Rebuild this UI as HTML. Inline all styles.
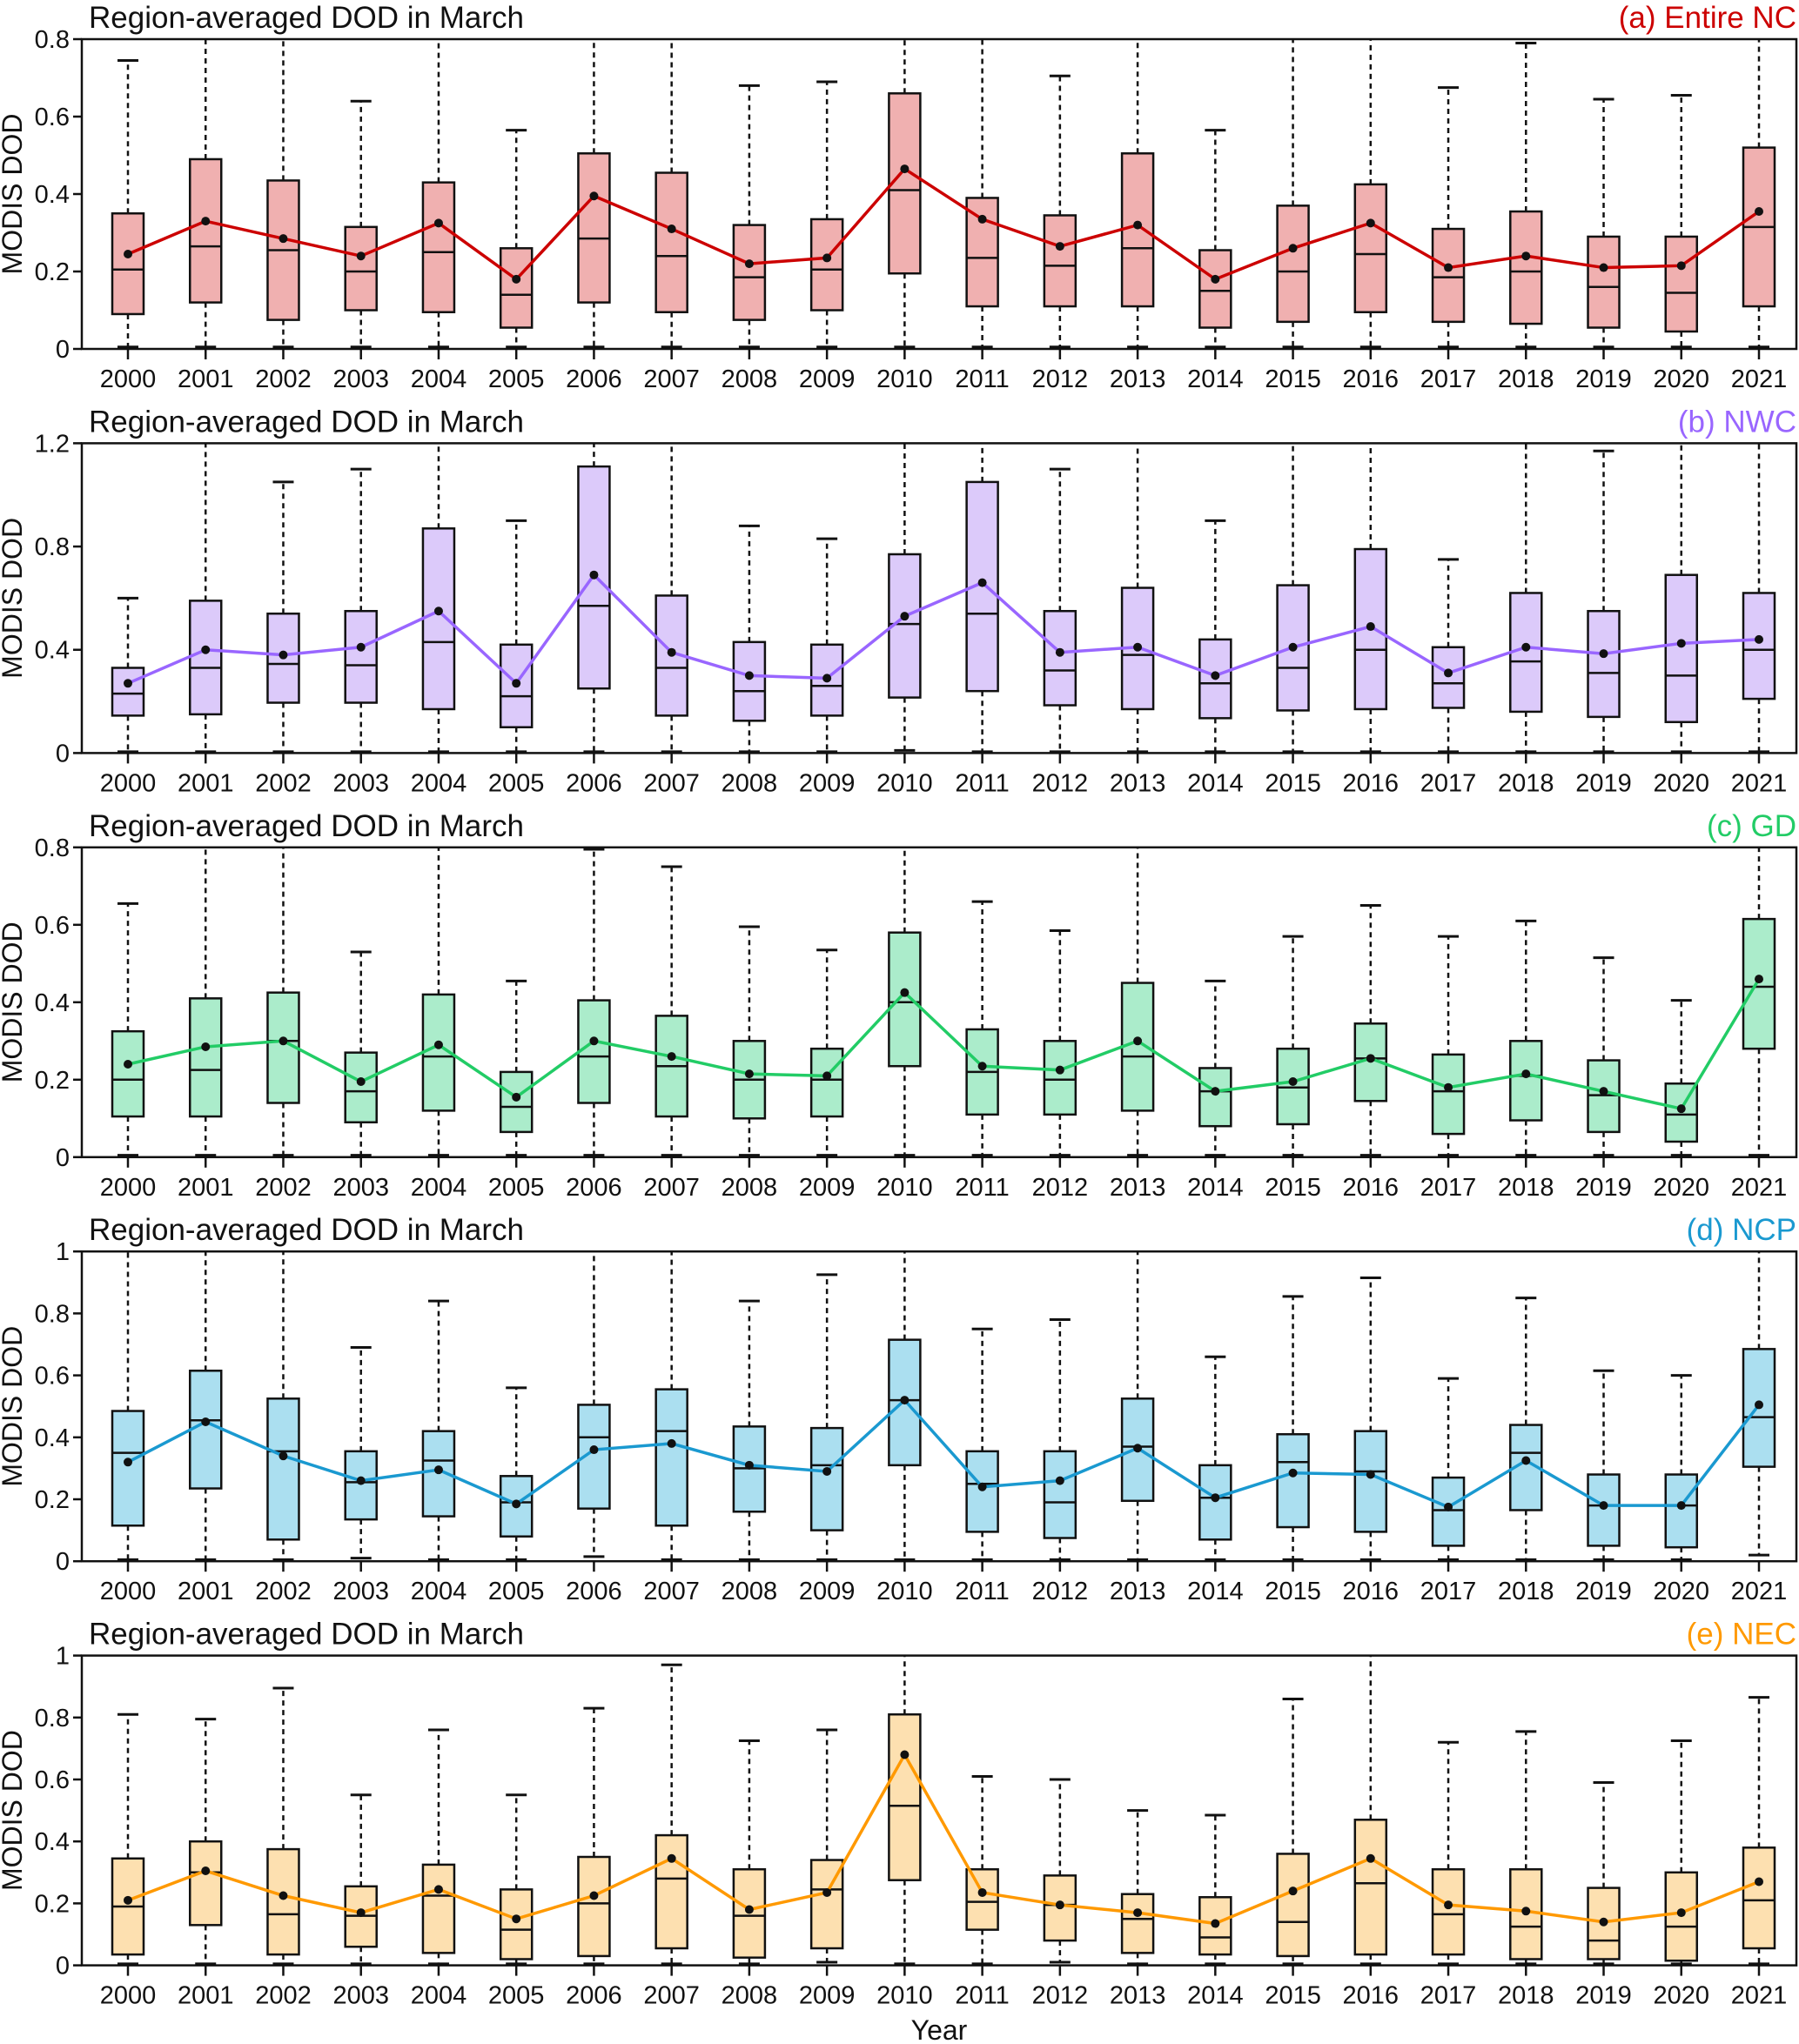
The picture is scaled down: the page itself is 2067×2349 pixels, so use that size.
<!DOCTYPE html>
<html><head><meta charset="utf-8">
<style>
html,body{margin:0;padding:0;background:#fff;}
svg{display:block;font-family:"Liberation Sans",sans-serif;}
</style></head>
<body>
<svg id="chart" width="2067" height="2349" viewBox="0 0 2067 2349" xmlns="http://www.w3.org/2000/svg"></svg>
<script>
const years = [2000,2001,2002,2003,2004,2005,2006,2007,2008,2009,2010,2011,2012,2013,2014,2015,2016,2017,2018,2019,2020,2021];

const aTop = [.745,.9,.9,.64,.9,.565,.9,.9,.68,.69,.9,.9,.705,.9,.565,.9,.9,.675,.79,.645,.655,.9];
const aQ3 = [.35,.49,.435,.315,.43,.26,.505,.455,.32,.335,.66,.39,.345,.505,.255,.37,.425,.31,.355,.29,.29,.52];
const aMed = [.205,.265,.255,.2,.25,.14,.285,.24,.185,.205,.41,.235,.215,.26,.15,.2,.245,.185,.2,.16,.145,.315];
const aQ1 = [.09,.12,.075,.1,.095,.055,.12,.095,.075,.1,.195,.11,.11,.11,.055,.07,.095,.07,.065,.055,.045,.11];
const aMean = [.245,.33,.285,.24,.325,.18,.395,.31,.22,.235,.465,.335,.265,.32,.18,.26,.325,.21,.24,.21,.215,.355];
const aLow = [.005,.005,.005,.005,.005,.005,.005,.005,.005,.005,.005,.005,.005,.005,.005,.005,.005,.005,.005,.005,.005,.005];

const bTop = [.6,1.3,1.05,1.1,1.3,.9,1.3,1.3,.88,.83,1.3,1.3,1.1,1.3,.9,1.3,1.3,.75,1.3,1.17,1.3,1.3];
const bQ3 = [.33,.59,.54,.55,.87,.42,1.11,.61,.43,.42,.77,1.05,.55,.64,.44,.65,.79,.41,.62,.55,.69,.62];
const bMed = [.23,.33,.345,.34,.43,.22,.57,.33,.24,.26,.5,.54,.32,.38,.27,.33,.40,.27,.355,.31,.30,.40];
const bQ1 = [.145,.15,.195,.195,.17,.10,.25,.145,.125,.145,.215,.24,.185,.17,.135,.165,.17,.175,.16,.14,.12,.21];
const bMean = [.27,.4,.38,.41,.55,.27,.69,.39,.30,.29,.53,.66,.39,.41,.30,.41,.49,.31,.41,.385,.425,.44];
const bLow = [.005,.005,.005,.005,.005,.005,.005,.005,.005,.005,.01,.005,.005,.005,.005,.005,.005,.005,.005,.005,.005,.005];

const cTop = [.655,.9,.9,.53,.9,.455,.795,.75,.595,.535,.9,.66,.585,.9,.455,.57,.65,.57,.61,.515,.405,.9];
const cQ3 = [.325,.41,.425,.27,.42,.22,.405,.365,.30,.28,.58,.33,.30,.45,.23,.28,.345,.265,.30,.25,.19,.615];
const cMed = [.2,.225,.3,.17,.26,.13,.26,.235,.2,.2,.40,.22,.2,.26,.17,.18,.255,.17,.21,.16,.11,.44];
const cQ1 = [.105,.105,.14,.09,.12,.065,.14,.105,.10,.105,.235,.11,.11,.12,.08,.085,.145,.06,.095,.065,.04,.28];
const cMean = [.24,.285,.30,.195,.29,.155,.30,.26,.215,.21,.425,.235,.225,.30,.17,.195,.255,.18,.215,.17,.125,.46];
const cLow = [.005,.005,.005,.005,.005,.005,.005,.005,.005,.005,.005,.005,.005,.005,.005,.005,.005,.005,.005,.005,.005,.005];

const dTop = [1.1,1.1,1.1,.69,.84,.56,1.1,1.1,.84,.925,1.1,.75,.78,1.1,.66,.855,.915,.59,.85,.615,.60,1.1];
const dQ3 = [.485,.615,.525,.355,.42,.275,.505,.555,.435,.43,.715,.355,.355,.525,.31,.41,.42,.27,.44,.28,.28,.685];
const dMed = [.35,.455,.355,.255,.325,.19,.40,.42,.30,.31,.52,.25,.19,.37,.205,.32,.29,.165,.35,.18,.18,.465];
const dQ1 = [.115,.235,.07,.135,.145,.08,.17,.115,.16,.10,.31,.095,.075,.195,.07,.11,.095,.05,.165,.05,.045,.305];
const dMean = [.32,.45,.34,.26,.295,.185,.36,.38,.31,.29,.52,.24,.26,.365,.205,.285,.28,.175,.325,.18,.18,.505];
const dLow = [.005,.005,.005,.01,.005,.005,.015,.005,.005,.005,.005,.005,.005,.005,.005,.005,.005,.005,.005,.005,.005,.02];

const eTop = [.81,.795,.895,.55,.76,.55,.83,.97,.725,.76,1.1,.61,.60,.50,.485,.86,1.1,.72,.755,.59,.725,.865];
const eQ3 = [.345,.40,.375,.255,.325,.245,.35,.42,.31,.34,.81,.31,.29,.23,.22,.36,.47,.31,.31,.25,.30,.38];
const eMed = [.19,.30,.165,.16,.225,.115,.2,.28,.16,.245,.515,.205,.195,.15,.09,.14,.265,.165,.125,.08,.125,.21];
const eQ1 = [.035,.13,.035,.06,.04,.02,.03,.055,.025,.055,.275,.115,.08,.04,.035,.03,.035,.035,.02,.02,.015,.055];
const eMean = [.21,.305,.225,.17,.245,.15,.225,.345,.18,.235,.68,.235,.195,.17,.135,.24,.345,.195,.175,.14,.17,.27];
const eLow = [.005,.005,.005,.005,.005,.005,.005,.005,.005,.01,.005,.005,.01,.005,.005,.005,.005,.005,.005,.005,.005,.005];

const aTicks = ["0","0.2","0.4","0.6","0.8"];
const bTicks = ["0","0.4","0.8","1.2"];
const cTicks = ["0","0.2","0.4","0.6","0.8"];
const dTicks = ["0","0.2","0.4","0.6","0.8","1"];
const eTicks = ["0","0.2","0.4","0.6","0.8","1"];

const panels = [
  {key:'a',label:'(a) Entire NC',fill:'#f0b0b0',line:'#cc0000',max:0.8,ticks:aTicks,top:aTop,q3:aQ3,med:aMed,q1:aQ1,mean:aMean,low:aLow},
  {key:'b',label:'(b) NWC',fill:'#dccafa',line:'#9966ff',max:1.2,ticks:bTicks,top:bTop,q3:bQ3,med:bMed,q1:bQ1,mean:bMean,low:bLow},
  {key:'c',label:'(c) GD',fill:'#abeccb',line:'#22cc66',max:0.8,ticks:cTicks,top:cTop,q3:cQ3,med:cMed,q1:cQ1,mean:cMean,low:cLow},
  {key:'d',label:'(d) NCP',fill:'#abdff0',line:'#1a99d0',max:1.0,ticks:dTicks,top:dTop,q3:dQ3,med:dMed,q1:dQ1,mean:dMean,low:dLow},
  {key:'e',label:'(e) NEC',fill:'#fde0b0',line:'#ff9900',max:1.0,ticks:eTicks,top:eTop,q3:eQ3,med:eMed,q1:eQ1,mean:eMean,low:eLow}
];

const NS='http://www.w3.org/2000/svg';
const svg=document.getElementById('chart');
function mk(tag,attrs,parent){const e=document.createElementNS(NS,tag);for(const k in attrs)e.setAttribute(k,attrs[k]);(parent||svg).appendChild(e);return e;}

const L=94,R=2064,H=356,X0=147,DX=(2021-147)/21,BW=36;
const xOf=i=>X0+i*DX;

panels.forEach((p,pi)=>{
  const T=45+pi*464.4, B=T+H;
  const yOf=v=>B-Math.min(v,p.max)/p.max*H;
  const g=mk('g',{});
  
  
  const t=mk('text',{x:102,y:T-13,'font-size':35,fill:'#111'},g);
  t.textContent='Region-averaged DOD in March';
  
  
  const lb=mk('text',{x:2064,y:T-13,'font-size':35,fill:p.line,'text-anchor':'end'},g);
  lb.textContent=p.label;
  
  
  const yl=mk('text',{x:0,y:0,'font-size':32,fill:'#111','text-anchor':'middle',transform:`translate(25,${T+H/2}) rotate(-90)`},g);
  yl.textContent='MODIS DOD';
  
  
  // y ticks
  p.ticks.forEach((s,i)=>{
    const v=parseFloat(s), y=yOf(v);
    mk('line',{x1:L-10,x2:L,y1:y,y2:y,stroke:'#111','stroke-width':2.5},g);
    const tx=mk('text',{x:L-14,y:y+10,'font-size':29,fill:'#111','text-anchor':'end'},g);
    tx.textContent=s;
    
    
  });
  // boxes
  years.forEach((yr,i)=>{
    const x=xOf(i);
    const bg=mk('g',{},g);
    
    
    const topV=p.top[i], clipped=topV>p.max;
    mk('line',{x1:x,x2:x,y1:yOf(p.q3[i]),y2:clipped?T:yOf(topV),stroke:'#111','stroke-width':2.5,'stroke-dasharray':'6,5'},bg);
    mk('line',{x1:x,x2:x,y1:yOf(p.q1[i]),y2:yOf(p.low[i]),stroke:'#111','stroke-width':2.5,'stroke-dasharray':'6,5'},bg);
    if(!clipped) mk('line',{x1:x-12,x2:x+12,y1:yOf(topV),y2:yOf(topV),stroke:'#111','stroke-width':3},bg);
    mk('line',{x1:x-12,x2:x+12,y1:yOf(p.low[i]),y2:yOf(p.low[i]),stroke:'#111','stroke-width':3},bg);
    mk('rect',{x:x-BW/2,y:yOf(p.q3[i]),width:BW,height:yOf(p.q1[i])-yOf(p.q3[i]),fill:p.fill,stroke:'#111','stroke-width':2.5},bg);
    mk('line',{x1:x-BW/2,x2:x+BW/2,y1:yOf(p.med[i]),y2:yOf(p.med[i]),stroke:'#111','stroke-width':2.5},bg);
    mk('line',{x1:x,x2:x,y1:B,y2:B+12,stroke:'#111','stroke-width':2.5},g);
    const xt=mk('text',{x:x,y:B+44,'font-size':29,fill:'#111','text-anchor':'middle'},g);
    xt.textContent=yr;
    
    
  });
  // mean line
  const pts=p.mean.map((v,i)=>xOf(i)+','+yOf(v)).join(' ');
  const ml=mk('polyline',{points:pts,fill:'none',stroke:p.line,'stroke-width':3.5},g);
  
  
  p.mean.forEach((v,i)=>{
    const c=mk('circle',{cx:xOf(i),cy:yOf(v),r:5,fill:'#111'},g);
    
    
  });
  const fr=mk('rect',{x:L,y:T,width:R-L,height:H,fill:'none',stroke:'#111','stroke-width':2.5},g);
  
  
});
const xl=mk('text',{x:1079,y:2344,'font-size':32,fill:'#111','text-anchor':'middle'});
xl.textContent='Year';


</script>
</body></html>
